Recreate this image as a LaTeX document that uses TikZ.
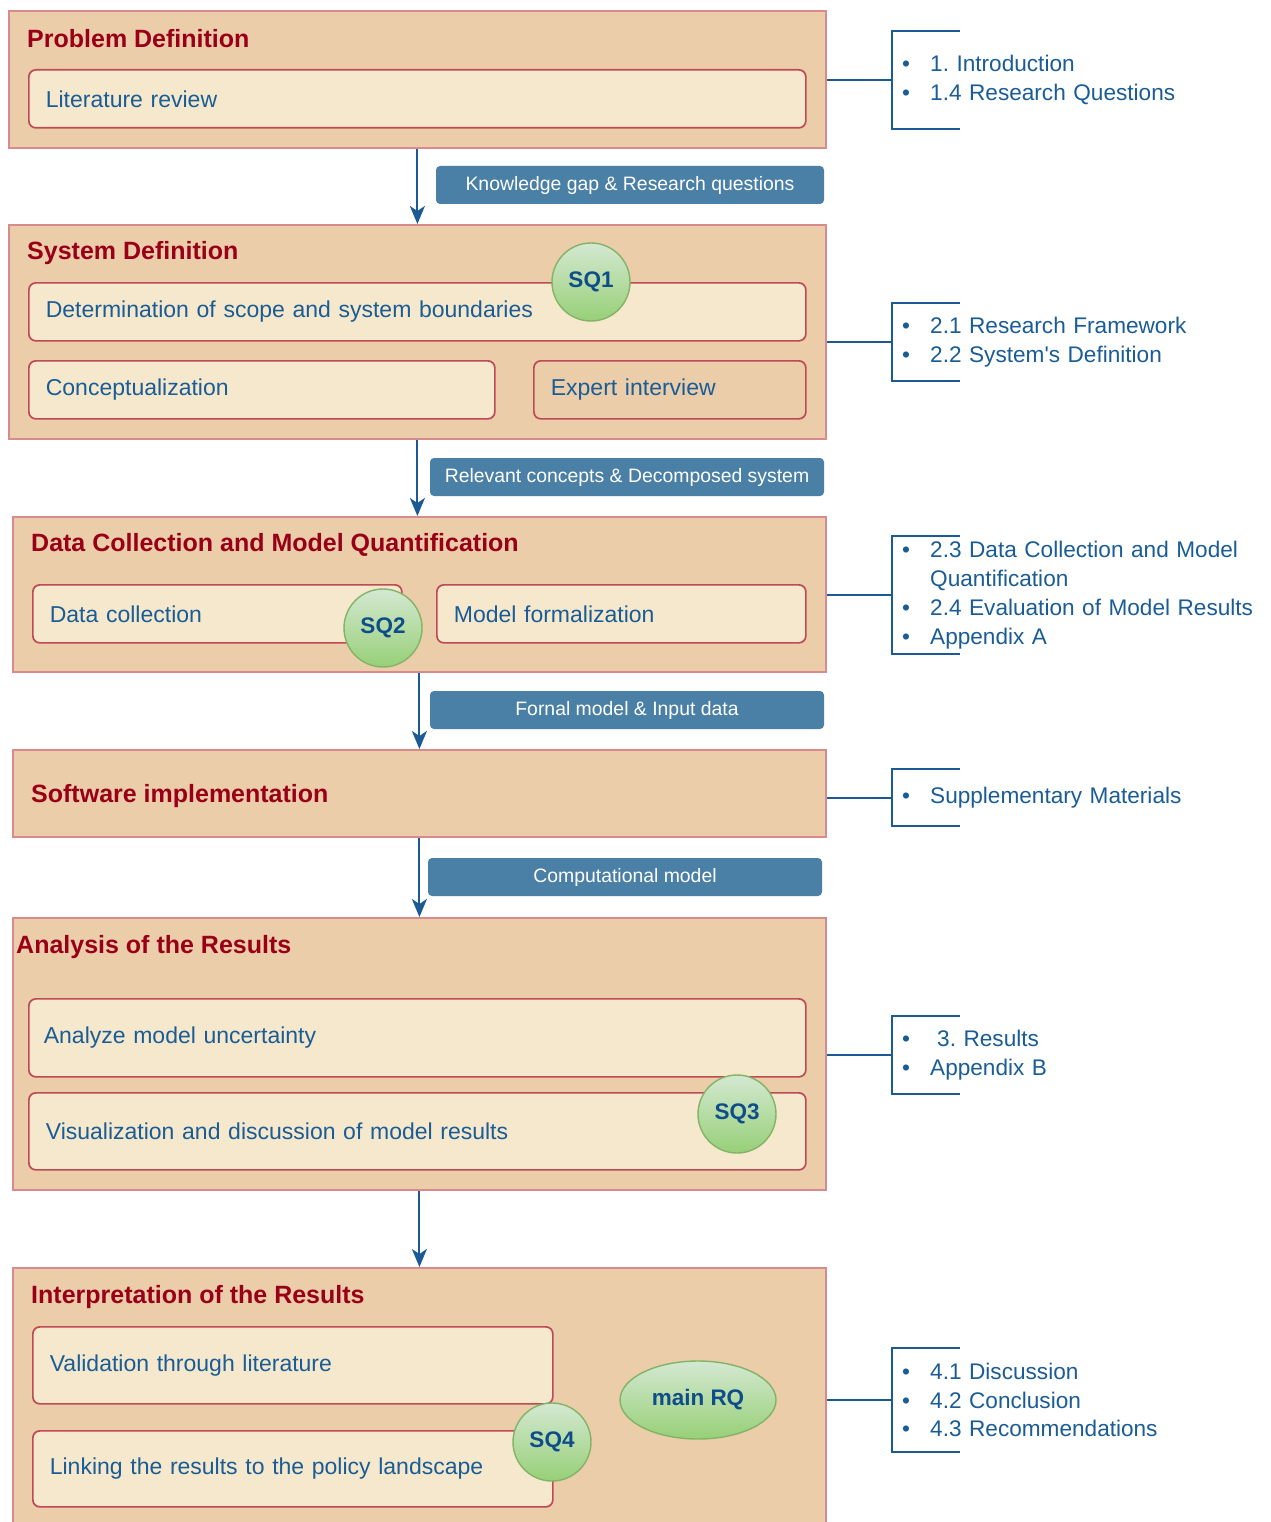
\documentclass[tikz,border=0pt]{standalone}
\usepackage{fontspec}
\setmainfont{Liberation Sans}
\usepackage{xcolor}
\usetikzlibrary{arrows.meta,positioning,shapes.geometric}

\definecolor{phasefill}{HTML}{EBCDA9}
\definecolor{phaseline}{HTML}{D98A8F}
\definecolor{innerfill}{HTML}{F5E8CC}
\definecolor{innerline}{HTML}{BE4A55}
\definecolor{titlered}{HTML}{990018}
\definecolor{textblue}{HTML}{1A5C96}
\definecolor{tagblue}{HTML}{4A7FA6}
\definecolor{linkblue}{HTML}{1B5A94}
\definecolor{sqtop}{HTML}{D4E8D2}
\definecolor{sqbot}{HTML}{97D077}
\definecolor{sqline}{HTML}{82B366}
\definecolor{sqtext}{HTML}{0E4D8A}

\newcommand{\phasefont}{\fontsize{25}{30}\selectfont\bfseries}
\newcommand{\itemfont}{\fontsize{23}{28}\selectfont}
\newcommand{\tagfont}{\fontsize{19.4}{23}\selectfont}
\newcommand{\reffont}{\fontsize{22.6}{28.8}\selectfont}
\newcommand{\sqfont}{\fontsize{22.5}{26}\selectfont\bfseries}
\newcommand{\bul}{\makebox[28pt][l]{\textbullet}}
\frenchspacing

\begin{document}
\begin{tikzpicture}[
  x=1pt, y=-1pt,
  phase/.style ={rectangle, draw=phaseline, fill=phasefill, line width=1.8pt,
                 anchor=north west, inner sep=0pt},
  ptitle/.style={anchor=west, inner sep=0pt, font=\phasefont, text=titlered},
  task/.style  ={rectangle, draw=innerline, fill=innerfill, line width=1.7pt,
                 rounded corners=7pt, anchor=north west, inner xsep=17pt,
                 align=left, font=\itemfont, text=textblue},
  tag/.style   ={rectangle, fill=tagblue, rounded corners=4pt, text=white,
                 font=\tagfont, minimum height=38pt, inner sep=0pt},
  sq/.style    ={circle, draw=sqline, line width=1.4pt, top color=sqtop,
                 bottom color=sqbot, minimum size=78pt, inner sep=0pt,
                 font=\sqfont, text=sqtext},
  refs/.style  ={anchor=west, inner xsep=10pt, inner ysep=0pt, text width=365pt,
                 align=left, font=\reffont, text=textblue},
  brk/.style   ={draw=linkblue, line width=2pt},
  arr/.style   ={-{Stealth[length=18pt, width=15pt, inset=5pt]}, draw=linkblue,
                 line width=2pt}
]
  \useasboundingbox[fill=white] (0,0) rectangle (1270,1522);

  \node[phase, minimum width=817pt, minimum height=137pt] (pd) at (8,10)    {};
  \node[phase, minimum width=817pt, minimum height=214pt] (sd) at (8,224)   {};
  \node[phase, minimum width=813pt, minimum height=155pt] (dc) at (12,516)  {};
  \node[phase, minimum width=813pt, minimum height=87pt]  (si) at (12,749)  {};
  \node[phase, minimum width=813pt, minimum height=272pt] (ar) at (12,917)  {};
  \node[phase, minimum width=813pt, minimum height=275pt] (ir) at (12,1267) {};

  \node[ptitle] (pdt) at (27,39)   {Problem Definition};
  \node[ptitle] (sdt) at (27,253)  {System Definition};
  \node[ptitle] (dct) at (31,545)  {Data Collection and Model Quantification};
  \node[ptitle] (sit) at (31,796)  {Software implementation};
  \node[ptitle] (art) at (16,947)  {Analysis of the Results};
  \node[ptitle] (irt) at (31,1297) {Interpretation of the Results};

  \node[task, text width=743pt, minimum height=58pt] (lit)     at (28,69)   {Literature review};
  \node[task, text width=743pt, minimum height=58pt] (scope)   at (28,282)  {Determination of scope and system boundaries};
  \node[task, text width=432pt, minimum height=58pt] (concept) at (28,360)  {Conceptualization};
  \node[task, text width=238pt, minimum height=58pt, fill=phasefill] (expert) at (533,360) {Expert interview};
  \node[task, text width=335pt, minimum height=58pt] (datac)   at (32,584)  {Data collection};
  \node[task, text width=335pt, minimum height=58pt] (modelf)  at (436,584) {Model formalization};
  \node[task, text width=747pt, minimum height=78pt, inner xsep=15pt] (uncert) at (28,998) {Analyze model uncertainty};
  \node[task, text width=743pt, minimum height=77pt] (visual)  at (28,1092) {Visualization and discussion of model results};
  \node[task, text width=486pt, minimum height=77pt] (valid)   at (32,1326) {Validation through literature};
  \node[task, text width=486pt, minimum height=76pt] (policy)  at (32,1430) {Linking the results to the policy landscape};

  \node[sq] (sq1) at (591,282)  {SQ1};
  \node[sq] (sq2) at (383,628)  {SQ2};
  \node[sq] (sq3) at (737,1114) {SQ3};
  \node[sq] (sq4) at (552,1442) {SQ4};
  \node[sq, ellipse, minimum width=156pt, minimum height=78pt] (mainrq) at (698,1400) {main RQ};

  \node[tag, minimum width=388pt] (t1) at (630,185) {Knowledge gap \& Research questions};
  \node[tag, minimum width=394pt] (t2) at (627,477) {Relevant concepts \& Decomposed system};
  \node[tag, minimum width=394pt] (t3) at (627,710) {Fornal model \& Input data};
  \node[tag, minimum width=394pt] (t4) at (625,877) {Computational model};

  \draw[arr] (pd.south) -- (pd.south |- sd.north);
  \draw[arr] (sd.south) -- (sd.south |- dc.north);
  \draw[arr] (dc.south) -- (dc.south |- si.north);
  \draw[arr] (si.south) -- (si.south |- ar.north);
  \draw[arr] (ar.south) -- (ar.south |- ir.north);

  \node[refs, minimum height=97pt]  (r1) at (892,80)    {\bul 1. Introduction\\\bul 1.4 Research Questions};
  \node[refs, minimum height=77pt]  (r2) at (892,342)   {\bul 2.1 Research Framework\\\bul 2.2 System\textquotesingle s Definition};
  \node[refs, minimum height=117pt] (r3) at (892,595)   {\bul 2.3 Data Collection and Model\\\hspace*{28pt}Quantification\\\bul 2.4 Evaluation of Model Results\\\bul Appendix A};
  \node[refs, minimum height=57pt]  (r4) at (892,797.5) {\bul Supplementary Materials};
  \node[refs, minimum height=77pt]  (r5) at (892,1055)  {\makebox[35pt][l]{\textbullet}3. Results\\\bul Appendix B};
  \node[refs, minimum height=104pt] (r6) at (892,1400)  {\bul 4.1 Discussion\\\bul 4.2 Conclusion\\\bul 4.3 Recommendations};

  \foreach \p/\r in {pd/r1, sd/r2, dc/r3, si/r4, ar/r5, ir/r6} {
    \draw[brk] (\p.east |- \r.west) -- (\r.west);
    \draw[brk] ([xshift=68pt]\r.north west) -- (\r.north west) -- (\r.south west) -- ([xshift=68pt]\r.south west);
  }
\end{tikzpicture}
\end{document}
